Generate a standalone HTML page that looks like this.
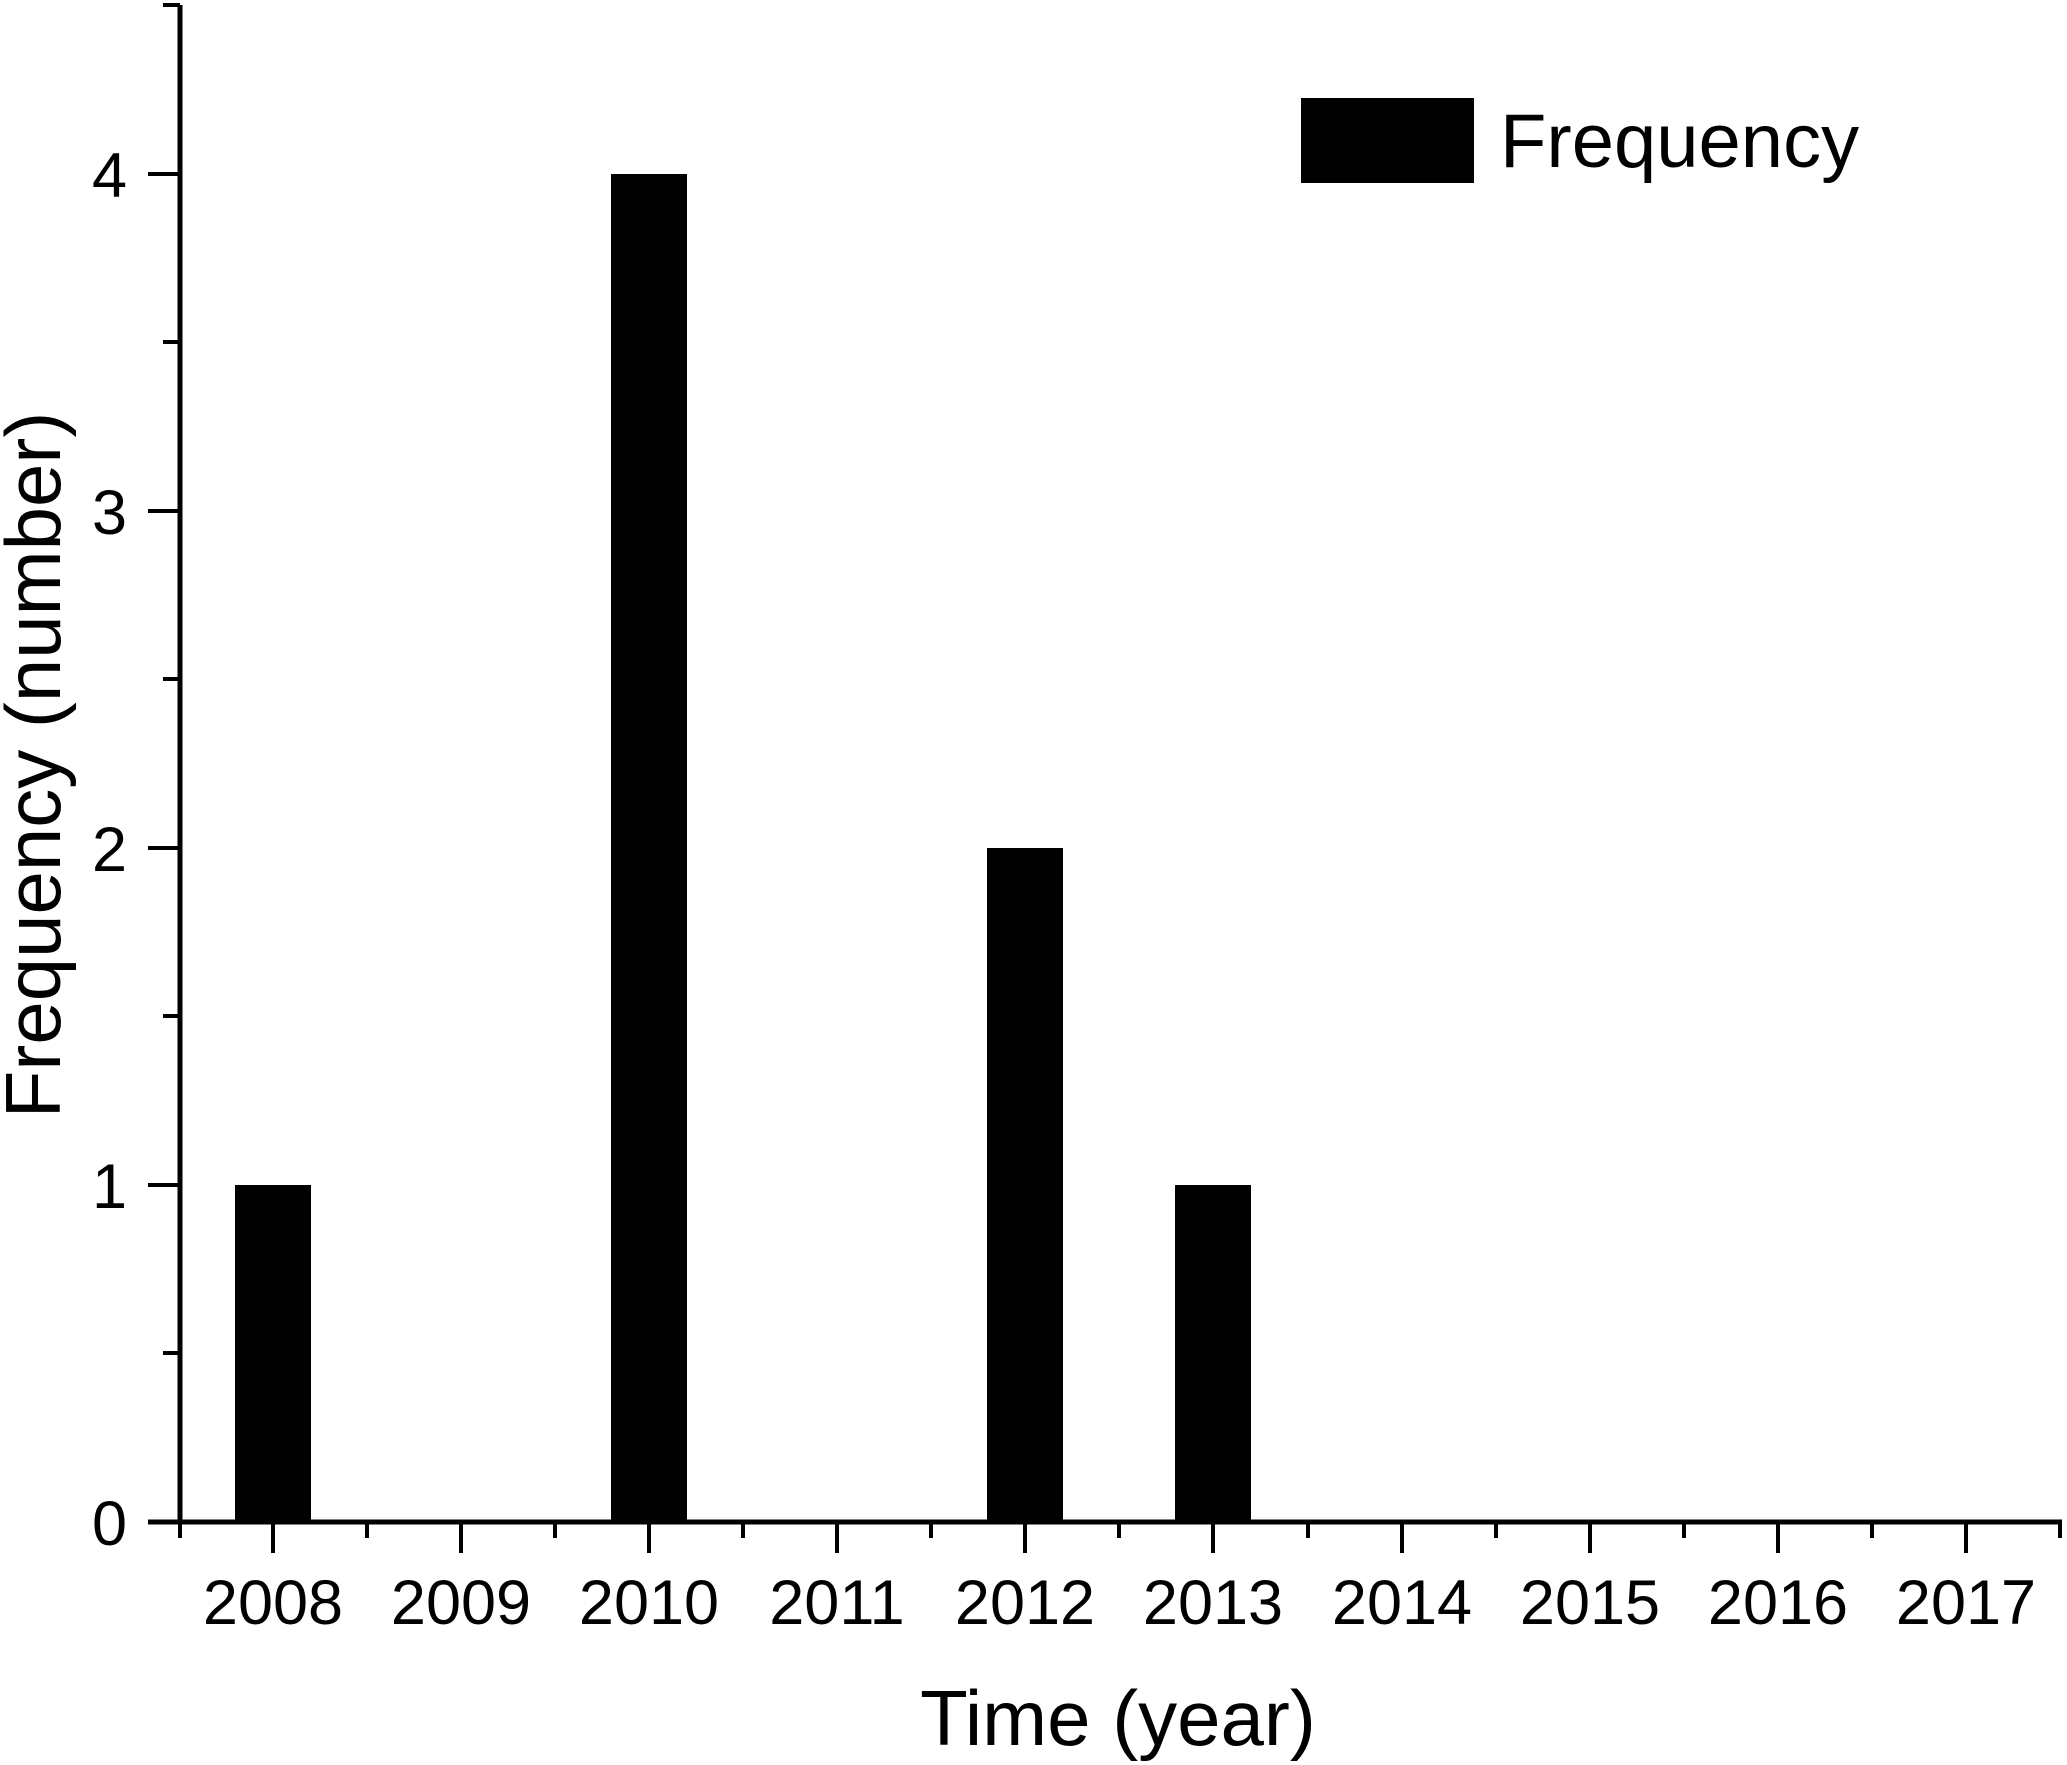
<!DOCTYPE html>
<html><head><meta charset="utf-8"><style>
html,body{margin:0;padding:0;background:#fff;}
svg{display:block;}
text{font-family:"Liberation Sans",Arial,sans-serif;fill:#000;}
</style></head><body>
<svg width="2067" height="1765" viewBox="0 0 2067 1765" xmlns="http://www.w3.org/2000/svg">
<rect x="235" y="1185" width="76" height="337" fill="#000"/>
<rect x="611" y="174" width="76" height="1348" fill="#000"/>
<rect x="987" y="848" width="76" height="674" fill="#000"/>
<rect x="1175" y="1185" width="76" height="337" fill="#000"/>
<line x1="180" y1="5" x2="180" y2="1524" stroke="#000" stroke-width="5"/>
<line x1="148" y1="1522" x2="2062" y2="1522" stroke="#000" stroke-width="5"/>
<g stroke="#000" stroke-width="4">
<line x1="148" y1="174" x2="180" y2="174"/>
<line x1="148" y1="511" x2="180" y2="511"/>
<line x1="148" y1="848" x2="180" y2="848"/>
<line x1="148" y1="1185" x2="180" y2="1185"/>
<line x1="163" y1="5" x2="180" y2="5"/>
<line x1="163" y1="342" x2="180" y2="342"/>
<line x1="163" y1="679" x2="180" y2="679"/>
<line x1="163" y1="1016" x2="180" y2="1016"/>
<line x1="163" y1="1353" x2="180" y2="1353"/>
</g>
<g stroke="#000" stroke-width="4">
<line x1="273" y1="1522" x2="273" y2="1553"/>
<line x1="461" y1="1522" x2="461" y2="1553"/>
<line x1="649" y1="1522" x2="649" y2="1553"/>
<line x1="837" y1="1522" x2="837" y2="1553"/>
<line x1="1025" y1="1522" x2="1025" y2="1553"/>
<line x1="1213" y1="1522" x2="1213" y2="1553"/>
<line x1="1402" y1="1522" x2="1402" y2="1553"/>
<line x1="1590" y1="1522" x2="1590" y2="1553"/>
<line x1="1778" y1="1522" x2="1778" y2="1553"/>
<line x1="1966" y1="1522" x2="1966" y2="1553"/>
<line x1="180" y1="1522" x2="180" y2="1538"/>
<line x1="367" y1="1522" x2="367" y2="1538"/>
<line x1="555" y1="1522" x2="555" y2="1538"/>
<line x1="743" y1="1522" x2="743" y2="1538"/>
<line x1="931" y1="1522" x2="931" y2="1538"/>
<line x1="1119" y1="1522" x2="1119" y2="1538"/>
<line x1="1308" y1="1522" x2="1308" y2="1538"/>
<line x1="1496" y1="1522" x2="1496" y2="1538"/>
<line x1="1684" y1="1522" x2="1684" y2="1538"/>
<line x1="1872" y1="1522" x2="1872" y2="1538"/>
<line x1="2060" y1="1522" x2="2060" y2="1538"/>
</g>
<g font-size="63" text-anchor="end">
<text x="127" y="1545">0</text>
<text x="127" y="1208">1</text>
<text x="127" y="871">2</text>
<text x="127" y="534">3</text>
<text x="127" y="197">4</text>
</g>
<g font-size="63" text-anchor="middle">
<text x="273" y="1624">2008</text>
<text x="461" y="1624">2009</text>
<text x="649" y="1624">2010</text>
<text x="837" y="1624">2011</text>
<text x="1025" y="1624">2012</text>
<text x="1213" y="1624">2013</text>
<text x="1402" y="1624">2014</text>
<text x="1590" y="1624">2015</text>
<text x="1778" y="1624">2016</text>
<text x="1966" y="1624">2017</text>
</g>
<text x="1118" y="1745" font-size="78" text-anchor="middle">Time (year)</text>
<text transform="translate(60,765) rotate(-90)" font-size="78" text-anchor="middle">Frequency (number)</text>
<rect x="1301" y="98" width="173" height="85" fill="#000"/>
<text x="1500" y="167" font-size="76">Frequency</text>
</svg>
</body></html>
